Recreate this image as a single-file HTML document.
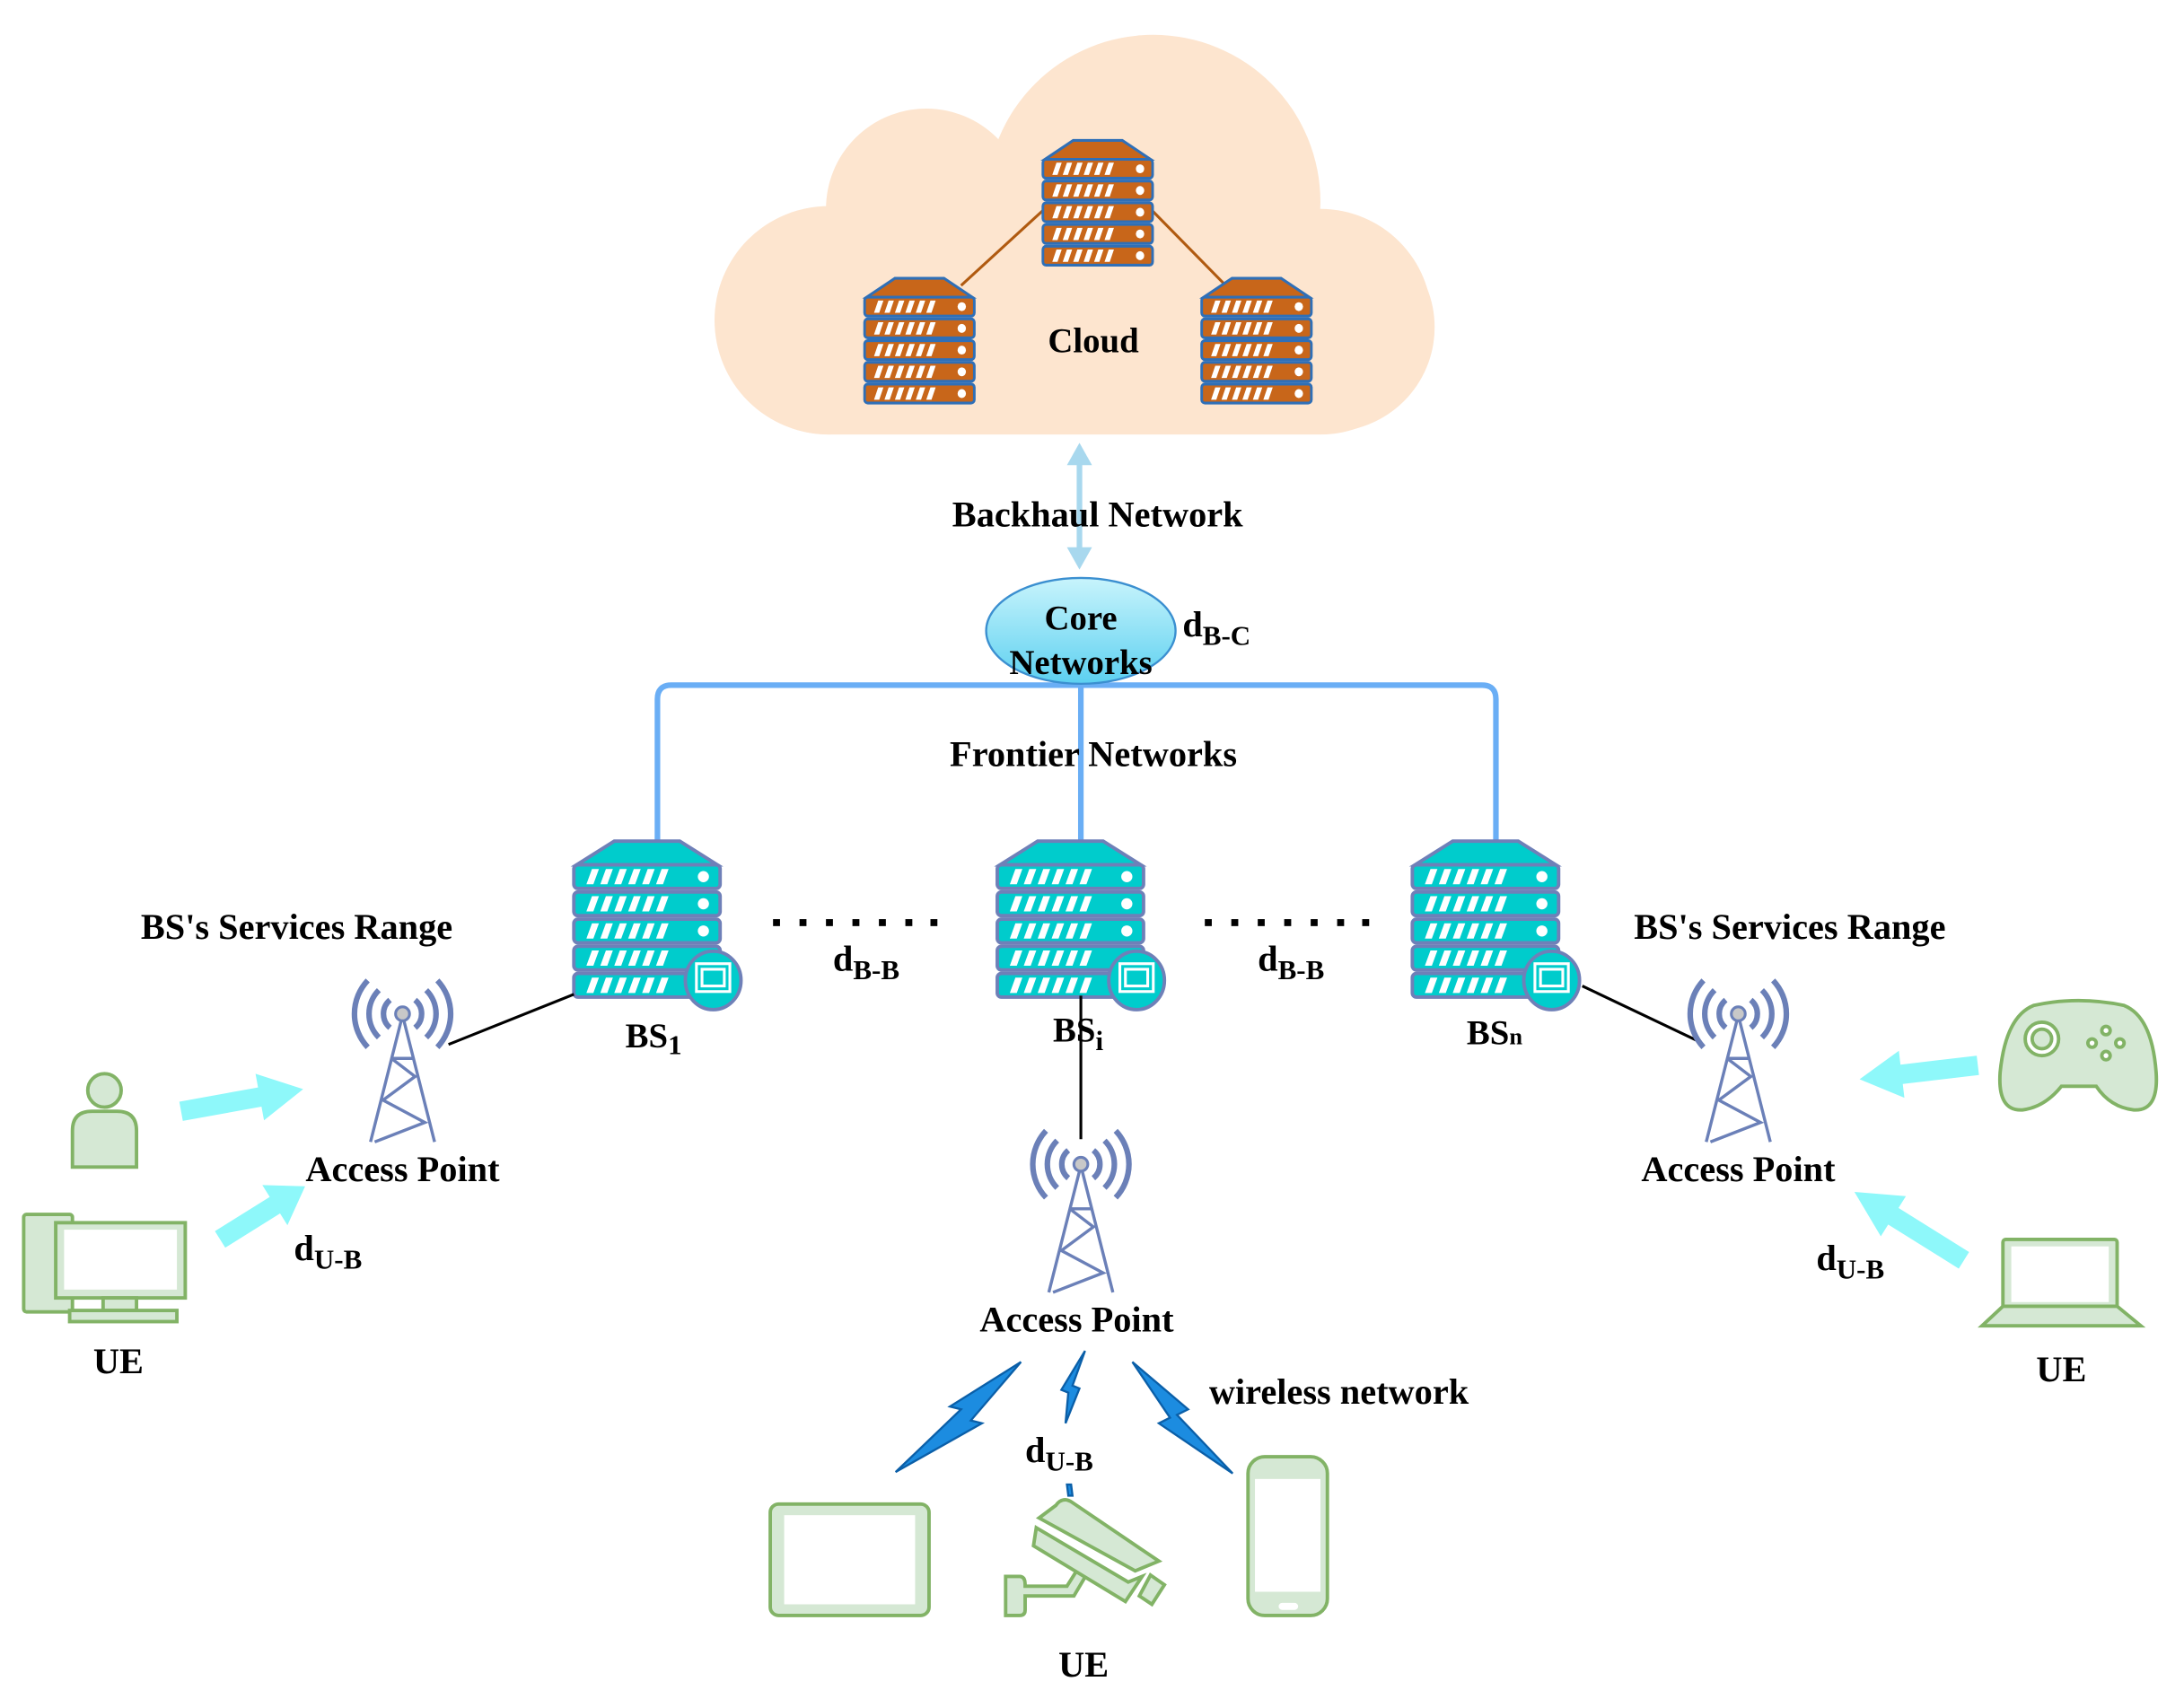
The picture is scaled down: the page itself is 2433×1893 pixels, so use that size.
<!DOCTYPE html>
<html><head><meta charset="utf-8"><style>
html,body{margin:0;padding:0;background:#fff}
svg{display:block}
text{font-family:"Liberation Serif",serif;font-weight:bold;fill:#000}
</style></head><body>
<svg width="2433" height="1893" viewBox="0 0 1568 1220" xmlns="http://www.w3.org/2000/svg">
<defs>
<g id="srv">
 <polygon points="30,1 77,1 104,18 3,18"/>
 <rect x="1" y="18" width="105" height="17" rx="3"/>
 <rect x="1" y="37.5" width="105" height="17" rx="3"/>
 <rect x="1" y="57" width="105" height="17" rx="3"/>
 <rect x="1" y="76.5" width="105" height="17" rx="3"/>
 <rect x="1" y="96" width="105" height="17" rx="3"/>
 <g fill="#fff" stroke="none">
  <g id="stripes">
   <polygon points="10,32 14,21 19,21 15,32"/><polygon points="20,32 24,21 29,21 25,32"/><polygon points="30,32 34,21 39,21 35,32"/><polygon points="40,32 44,21 49,21 45,32"/><polygon points="50,32 54,21 59,21 55,32"/><polygon points="60,32 64,21 69,21 65,32"/>
   <circle cx="94" cy="26.5" r="4"/>
  </g>
  <use href="#stripes" y="19.5"/><use href="#stripes" y="39"/><use href="#stripes" y="58.5"/><use href="#stripes" y="78"/>
 </g>
</g>
<g id="tower" fill="none" stroke="#6b80b8">
 <g stroke-width="4" stroke-linecap="butt">
  <path d="M-9,-10 A13,13 0 0 0 -9,10"/><path d="M9,-10 A13,13 0 0 1 9,10"/>
  <path d="M-17,-17 A24,24 0 0 0 -17,17"/><path d="M17,-17 A24,24 0 0 1 17,17"/>
  <path d="M-25,-24 A35,35 0 0 0 -25,24"/><path d="M25,-24 A35,35 0 0 1 25,24"/>
 </g>
 <g stroke-width="2.2">
  <path d="M-1,5 L-23,92 M1,5 L23,92 M-8,32 L9,45 L-14,62 L16,78 L-20,92 M-8,32 L8,32"/>
 </g>
 <circle cx="0" cy="0" r="5" fill="#c8c8c8" stroke="#6b80b8" stroke-width="2"/>
</g>
<g id="arr"><polygon points="0,-7 58,-7 58,-17 90,0 58,17 58,7 0,7" fill="#8ef8fa"/></g>
</defs>

<g fill="#fde5cf">
 <circle cx="828" cy="145" r="120"/>
 <circle cx="665" cy="150" r="72"/>
 <circle cx="595" cy="230" r="82"/>
 <circle cx="955" cy="235" r="75"/>
 <rect x="515" y="150" width="513" height="162" rx="80"/>
</g>
<path d="M750,150 L690,205 M826,150 L880,205" stroke="#b05a10" stroke-width="2" fill="none"/>
<use href="#srv" transform="translate(748,100) scale(0.75,0.8)" fill="#c8661a" stroke="#2f6fb7" stroke-width="2.5"/>
<use href="#srv" transform="translate(620,199) scale(0.75,0.8)" fill="#c8661a" stroke="#2f6fb7" stroke-width="2.5"/>
<use href="#srv" transform="translate(862,199) scale(0.75,0.8)" fill="#c8661a" stroke="#2f6fb7" stroke-width="2.5"/>
<text x="785" y="253" font-size="25" text-anchor="middle">Cloud</text>

<g stroke="#a8d8ee" stroke-width="4" fill="#a8d8ee">
 <line x1="775" y1="330" x2="775" y2="396"/>
 <polygon points="775,318 766,334 784,334" stroke="none"/>
 <polygon points="775,409 766,393 784,393" stroke="none"/>
</g>
<text x="788" y="378" font-size="26" text-anchor="middle">Backhaul Network</text>

<path d="M472,603 V502 Q472,492 482,492 H1064 Q1074,492 1074,502 V603 M776,492 V603" stroke="#6aaef5" stroke-width="4" fill="none"/>
<defs><linearGradient id="cg" x1="0" y1="0" x2="0" y2="1"><stop offset="0" stop-color="#c8f4fc"/><stop offset="1" stop-color="#5cd0f0"/></linearGradient></defs>
<ellipse cx="776" cy="453" rx="68" ry="38" fill="url(#cg)" stroke="#3b8fd0" stroke-width="1.5"/>
<text x="776" y="452" font-size="25" text-anchor="middle">Core</text>
<text x="776" y="484" font-size="25" text-anchor="middle">Networks</text>
<text x="849" y="457" font-size="26">d<tspan font-size="20" dy="6">B-C</tspan></text>
<text x="785" y="550" font-size="26" text-anchor="middle">Frontier Networks</text>

<g fill="#00cccc" stroke="#6f80b8" stroke-width="2.5">
 <use href="#srv" x="411" y="603"/>
 <ellipse cx="512" cy="704" rx="20" ry="21"/>
 <use href="#srv" x="715" y="603"/>
 <ellipse cx="816" cy="704" rx="20" ry="21"/>
 <use href="#srv" x="1013" y="603"/>
 <ellipse cx="1114" cy="704" rx="20" ry="21"/>
</g>
<g fill="none" stroke="#fff" stroke-width="2">
 <rect x="500" y="692" width="24" height="20"/><rect x="504" y="696" width="16" height="12"/>
 <rect x="804" y="692" width="24" height="20"/><rect x="808" y="696" width="16" height="12"/>
 <rect x="1102" y="692" width="24" height="20"/><rect x="1106" y="696" width="16" height="12"/>
</g>
<g fill="#000">
 <rect x="555" y="660" width="5" height="5"/><rect x="574" y="660" width="5" height="5"/><rect x="593" y="660" width="5" height="5"/><rect x="612" y="660" width="5" height="5"/><rect x="631" y="660" width="5" height="5"/><rect x="650" y="660" width="5" height="5"/><rect x="668" y="660" width="5" height="5"/>
 <rect x="865" y="660" width="5" height="5"/><rect x="884" y="660" width="5" height="5"/><rect x="903" y="660" width="5" height="5"/><rect x="922" y="660" width="5" height="5"/><rect x="941" y="660" width="5" height="5"/><rect x="960" y="660" width="5" height="5"/><rect x="978" y="660" width="5" height="5"/>
</g>
<text x="598" y="697" font-size="26">d<tspan font-size="20" dy="6">B-B</tspan></text>
<text x="903" y="697" font-size="26">d<tspan font-size="20" dy="6">B-B</tspan></text>
<text x="449" y="752" font-size="25">BS<tspan font-size="20" dy="5">1</tspan></text>
<text x="756" y="748" font-size="25">BS<tspan font-size="20" dy="6">i</tspan></text>
<text x="1053" y="750" font-size="25">BS<tspan font-size="17">n</tspan></text>

<g stroke="#000" stroke-width="2">
 <line x1="322" y1="750" x2="412" y2="714"/>
 <line x1="1136" y1="708" x2="1218" y2="747"/>
 <line x1="776" y1="715" x2="776" y2="818"/>
</g>

<text x="213" y="674" font-size="26" text-anchor="middle">BS's Services Range</text>
<text x="1285" y="674" font-size="26" text-anchor="middle">BS's Services Range</text>

<use href="#tower" x="289" y="728"/>
<use href="#tower" x="776" y="836"/>
<use href="#tower" x="1248" y="728"/>

<text x="289" y="848" font-size="26" text-anchor="middle">Access Point</text>
<text x="773" y="956" font-size="26" text-anchor="middle">Access Point</text>
<text x="1248" y="848" font-size="26" text-anchor="middle">Access Point</text>

<use href="#arr" transform="translate(130,798) rotate(-10.3) scale(0.99,1)"/>
<use href="#arr" transform="translate(158,890) rotate(-32) scale(0.8,1)"/>
<use href="#arr" transform="translate(1420,765) rotate(173.3) scale(0.95,1)"/>
<use href="#arr" transform="translate(1410,905) rotate(212) scale(1.03,1)"/>

<text x="211" y="905" font-size="26">d<tspan font-size="20" dy="6">U-B</tspan></text>
<text x="1304" y="912" font-size="26">d<tspan font-size="20" dy="6">U-B</tspan></text>
<text x="736" y="1050" font-size="26">d<tspan font-size="20" dy="6">U-B</tspan></text>

<g fill="#d5e8d4" stroke="#82b366" stroke-width="2.5">
 <circle cx="75" cy="783" r="12"/>
 <path d="M52,838 V812 Q52,798 66,798 H84 Q98,798 98,812 V838 Z"/>
 <rect x="17" y="872" width="35" height="70" rx="2"/>
 <rect x="40" y="878" width="93" height="54" fill="#d5e8d4"/>
 <rect x="46" y="883" width="81" height="43" fill="#fff" stroke="none"/>
 <rect x="74" y="932" width="24" height="9"/>
 <rect x="50" y="941" width="77" height="8"/>
 <path d="M1460,722 Q1492,715 1525,722 Q1545,730 1548,770 Q1550,798 1532,797 Q1515,795 1505,780 H1480 Q1468,795 1452,797 Q1434,798 1436,770 Q1440,730 1460,722 Z"/>
 <circle cx="1466" cy="746" r="12" fill="#fff"/>
 <circle cx="1466" cy="746" r="7"/>
 <circle cx="1512" cy="740" r="3" fill="#fff"/><circle cx="1522" cy="749" r="3" fill="#fff"/><circle cx="1512" cy="758" r="3" fill="#fff"/><circle cx="1502" cy="749" r="3" fill="#fff"/>
 <rect x="1438" y="890" width="82" height="50" rx="2"/>
 <rect x="1444" y="895" width="70" height="40" fill="#fff" stroke="none"/>
 <path d="M1423,952 L1438,938 H1520 L1537,952 Z"/>
 <rect x="553" y="1080" width="114" height="80" rx="6"/>
 <rect x="563" y="1088" width="94" height="64" fill="#fff" stroke="none"/>
 <path d="M722,1132 H732 Q736,1132 736,1138 V1139 H766 L778,1120 L784,1124 L771,1146 H736 V1156 Q736,1160 732,1160 H722 Z"/>
 <path d="M758,1081 Q763,1074 770,1079 L832,1121 L815,1128 L746,1090 Z"/>
 <path d="M744,1097 L810,1136 L820,1132 L808,1150 L742,1110 Z"/>
 <path d="M826,1131 L836,1138 L827,1152 L818,1146 Z"/>
 <rect x="896" y="1046" width="57" height="114" rx="12"/>
 <rect x="901" y="1062" width="47" height="81" fill="#fff" stroke="none"/>
 <rect x="918" y="1151" width="14" height="5" rx="2.5" fill="#fff" stroke="none"/>
</g>
<text x="85" y="986" font-size="26" text-anchor="middle">UE</text>
<text x="1480" y="992" font-size="26" text-anchor="middle">UE</text>
<text x="778" y="1204" font-size="26" text-anchor="middle">UE</text>

<g fill="#1c8ce0" stroke="#0b5fa8" stroke-width="1.5" stroke-linejoin="miter">
 <polygon points="733,978 697,1020 705,1022 643,1057 690,1012 682,1010"/>
 <polygon points="779,970 770,995 775,997 765,1022 767,1000 762,998"/>
 <polygon points="813,978 853,1012 845,1016 885,1058 832,1022 840,1018"/>
 <polygon points="766,1066 769,1066 770,1074 767,1074"/>
</g>
<text x="868" y="1008" font-size="26">wireless network</text>
</svg>
</body></html>
